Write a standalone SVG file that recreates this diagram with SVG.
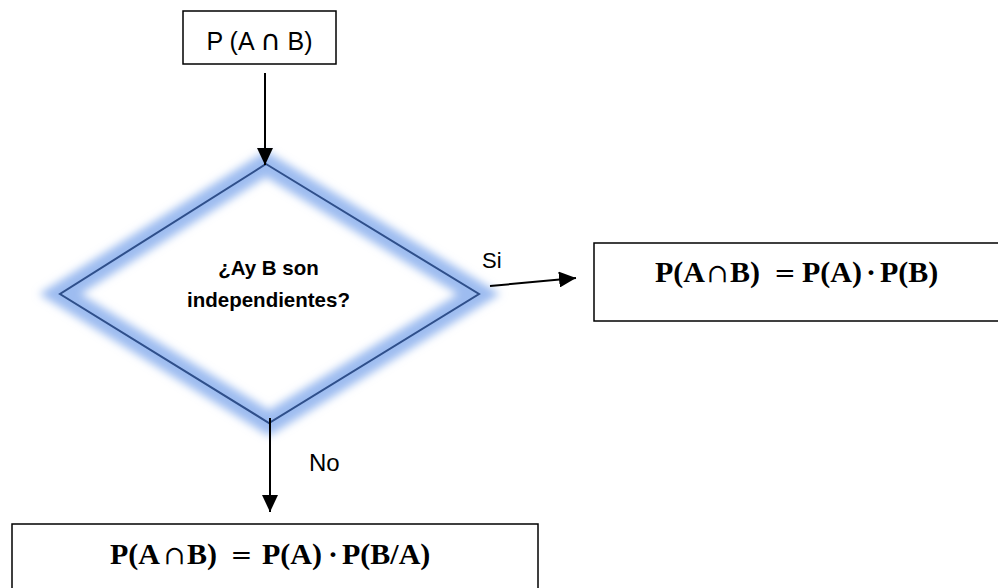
<svg xmlns="http://www.w3.org/2000/svg" width="998" height="588" viewBox="0 0 998 588">
  <style>
    .box { fill: #ffffff; stroke: #000000; stroke-width: 1.5; }
    .conn { stroke: #000000; stroke-width: 2; fill: none; }
    .lbl { font-family: "Liberation Sans", Arial, sans-serif; fill: #000000; }
    .q { font-family: "Liberation Sans", Arial, sans-serif; font-weight: bold; font-size: 20.5px; fill: #000000; text-anchor: middle; }
    .math { font-family: "Liberation Serif", "Times New Roman", serif; font-weight: bold; font-size: 30px; fill: #000000; }
    .op { font-family: "DejaVu Serif", serif; font-weight: normal; font-size: 26px; }
  </style>
  <defs>
    <marker id="arrow" markerUnits="userSpaceOnUse" markerWidth="17" markerHeight="16" refX="17" refY="8" orient="auto">
      <path d="M0,0 L17,8 L0,16 Z" fill="#000000"/>
    </marker>
    <filter id="glow" x="-20%" y="-20%" width="140%" height="140%">
      <feGaussianBlur stdDeviation="4"/>
    </filter>
  </defs>

  <rect width="998" height="588" fill="#ffffff"/>

  <g id="start">
    <rect class="box" x="183" y="11" width="153" height="53"/>
    <text class="lbl" x="259.5" y="50" font-size="25" text-anchor="middle">P (A <tspan font-family="DejaVu Sans, sans-serif" font-size="28">∩</tspan> B)</text>
  </g>

  <g id="decision">
    <polygon points="266,164 479,294 269,423 60,294" fill="none" stroke="#9DBCF0" stroke-width="22" stroke-linejoin="miter" filter="url(#glow)"/>
    <polygon points="266,164 479,294 269,423 60,294" fill="none" stroke="#2F4F8A" stroke-width="2"/>
    <text class="q" x="268.5" y="275">¿Ay B son</text>
    <text class="q" x="268.5" y="307">independientes?</text>
  </g>

  <g id="yes-result">
    <rect class="box" x="594" y="243" width="420" height="78"/>
    <text class="math" y="282"><tspan x="655">P(A</tspan> <tspan class="op" x="706.5">∩</tspan> <tspan x="730">B)</tspan> <tspan class="op" x="774.1">=</tspan> <tspan x="802">P(A)</tspan> <tspan x="866">·</tspan> <tspan x="880">P(B)</tspan></text>
  </g>

  <g id="no-result">
    <rect class="box" x="12" y="524" width="526" height="80"/>
    <text class="math" y="564"><tspan x="110">P(A</tspan> <tspan class="op" x="163.5">∩</tspan> <tspan x="187">B)</tspan> <tspan class="op" x="230.6">=</tspan> <tspan x="262">P(A)</tspan> <tspan x="328">·</tspan> <tspan x="342">P(B/A)</tspan></text>
  </g>

  <g id="connectors">
    <line class="conn" x1="265" y1="73" x2="265" y2="165" marker-end="url(#arrow)"/>
    <line class="conn" x1="490" y1="286" x2="576" y2="278" marker-end="url(#arrow)"/>
    <line class="conn" x1="270" y1="418" x2="270" y2="512" marker-end="url(#arrow)"/>
    <text class="lbl" x="482" y="268" font-size="22">Si</text>
    <text class="lbl" x="309" y="471" font-size="24">No</text>
  </g>
</svg>
